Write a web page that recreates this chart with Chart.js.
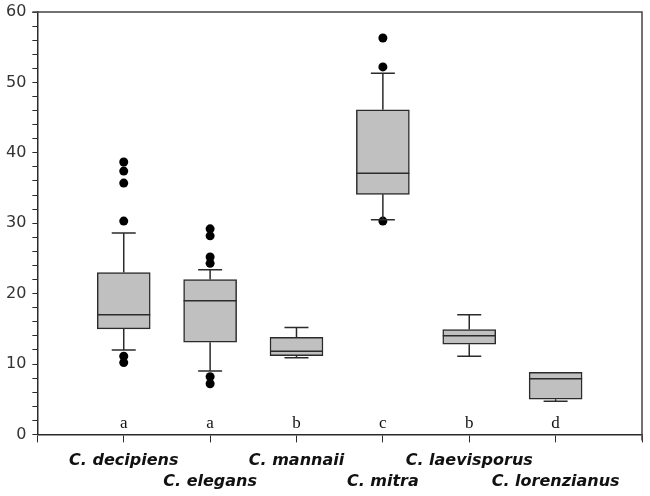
<!DOCTYPE html>
<html>
<head>
<meta charset="utf-8">
<script src="https://cdn.jsdelivr.net/npm/chart.js@4"></script>
<style>
  body { margin: 0; background: #fff; }
  #wrap { width: 650px; height: 496px; }
</style>
</head>
<body>
<div id="wrap"><canvas id="boxChart"></canvas></div>
<script>
/* dati */
const species = ["C. decipiens", "C. elegans", "C. mannaii", "C. mitra", "C. laevisporus", "C. lorenzianus"];
const q1 = [15.0, 13.1, 11.2, 34.1, 12.8, 5.0];
const q3 = [23.0, 22.0, 13.8, 46.1, 14.9, 8.8];
const medians = [17.0, 19.0, 11.8, 37.1, 14.0, 7.9];
const whiskerLow = [12.0, 9.0, 10.9, 30.5, 11.1, 4.7];
const whiskerHigh = [28.6, 23.4, 15.2, 51.3, 17.0, 8.8];
const outliers = [
  [10.2, 11.1, 30.3, 35.7, 37.4, 38.7],
  [7.2, 8.2, 24.3, 25.2, 28.2, 29.2],
  [],
  [30.3, 52.2, 56.3],
  [],
  []
];
const groupLetters = ["a", "a", "b", "c", "b", "d"];
const yMin = 0, yMax = 60, yMajorStep = 10, yMinorStep = 2;

const LINE = "#2b2b2b";

/* baffi, mediane, lettere e cornice */
const boxExtras = {
  id: "boxExtras",
  afterDatasetsDraw(chart) {
    const ctx = chart.ctx;
    const xs = chart.scales.x;
    const ys = chart.scales.y;
    const capHalf = 12;
    const boxHalf = 26.5;
    ctx.save();
    ctx.strokeStyle = LINE;
    ctx.lineWidth = 1.5;
    species.forEach((name, i) => {
      const x = xs.getPixelForValue(i + 1);
      const yq1 = ys.getPixelForValue(q1[i]);
      const yq3 = ys.getPixelForValue(q3[i]);
      const ylo = ys.getPixelForValue(whiskerLow[i]);
      const yhi = ys.getPixelForValue(whiskerHigh[i]);
      const ymed = ys.getPixelForValue(medians[i]);
      ctx.beginPath();
      if (whiskerHigh[i] > q3[i]) {
        ctx.moveTo(x, yq3); ctx.lineTo(x, yhi);
        ctx.moveTo(x - capHalf, yhi); ctx.lineTo(x + capHalf, yhi);
      }
      if (whiskerLow[i] < q1[i]) {
        ctx.moveTo(x, yq1); ctx.lineTo(x, ylo);
        ctx.moveTo(x - capHalf, ylo); ctx.lineTo(x + capHalf, ylo);
      }
      ctx.moveTo(x - boxHalf, ymed); ctx.lineTo(x + boxHalf, ymed);
      ctx.stroke();

      ctx.fillStyle = "#111";
      ctx.font = "17px 'Liberation Serif'";
      ctx.textAlign = "center";
      ctx.textBaseline = "alphabetic";
      ctx.fillText(groupLetters[i], x, ys.getPixelForValue(0.85));
    });
    /* cornice superiore e destra */
    const a = chart.chartArea;
    ctx.strokeStyle = "#444";
    ctx.beginPath();
    ctx.moveTo(a.left - 5, a.top);
    ctx.lineTo(a.right, a.top);
    ctx.lineTo(a.right, a.bottom + 6);
    ctx.stroke();
    ctx.restore();
  }
};

const labels = ["", ...species, ""];
const outlierPoints = [];
outliers.forEach((list, i) => list.forEach(v => outlierPoints.push({ x: species[i], y: v })));

new Chart(document.getElementById("boxChart"), {
  type: "bar",
  data: {
    labels: labels,
    datasets: [
      {
        data: [null, ...species.map((_, i) => [q1[i], q3[i]]), null],
        backgroundColor: "#c0c0c0",
        borderColor: LINE,
        borderWidth: 1.5,
        borderSkipped: false,
        barThickness: 53,
        order: 2
      },
      {
        type: "line",
        data: outlierPoints,
        showLine: false,
        pointRadius: 4.5,
        pointHoverRadius: 4.5,
        pointBackgroundColor: "#000",
        pointBorderColor: "#000",
        pointBorderWidth: 0,
        order: 1
      }
    ]
  },
  options: {
    responsive: true,
    maintainAspectRatio: false,
    animation: false,
    layout: { autoPadding: false, padding: { left: 0, right: 7, top: 12, bottom: -4 } },
    plugins: {
      legend: { display: false },
      tooltip: { enabled: false }
    },
    scales: {
      x: {
        offset: false,
        grid: { offset: false, drawOnChartArea: false, drawTicks: true, tickLength: 8, color: LINE },
        border: { display: true, color: LINE, width: 1.5 },
        ticks: {
          autoSkip: false,
          maxRotation: 0,
          padding: 8,
          color: "#111",
          font: { family: "'DejaVu Sans'", size: 16, weight: "bold", style: "italic", lineHeight: 1.3 },
          callback: function (val, idx) {
            const name = this.getLabelForValue(val);
            if (!name) return "";
            return idx % 2 === 1 ? name : ["", name];
          }
        }
      },
      y: {
        min: yMin,
        max: yMax,
        grid: { drawOnChartArea: false, drawTicks: true, tickLength: 5, color: LINE },
        border: { display: true, color: LINE, width: 1.5 },
        ticks: {
          stepSize: yMinorStep,
          autoSkip: false,
          padding: 6,
          color: "#333",
          font: { family: "'DejaVu Sans'", size: 16, lineHeight: 0.75 },
          callback: v => (v % yMajorStep === 0 ? v : "")
        }
      }
    }
  },
  plugins: [boxExtras]
});
</script>
</body>
</html>
